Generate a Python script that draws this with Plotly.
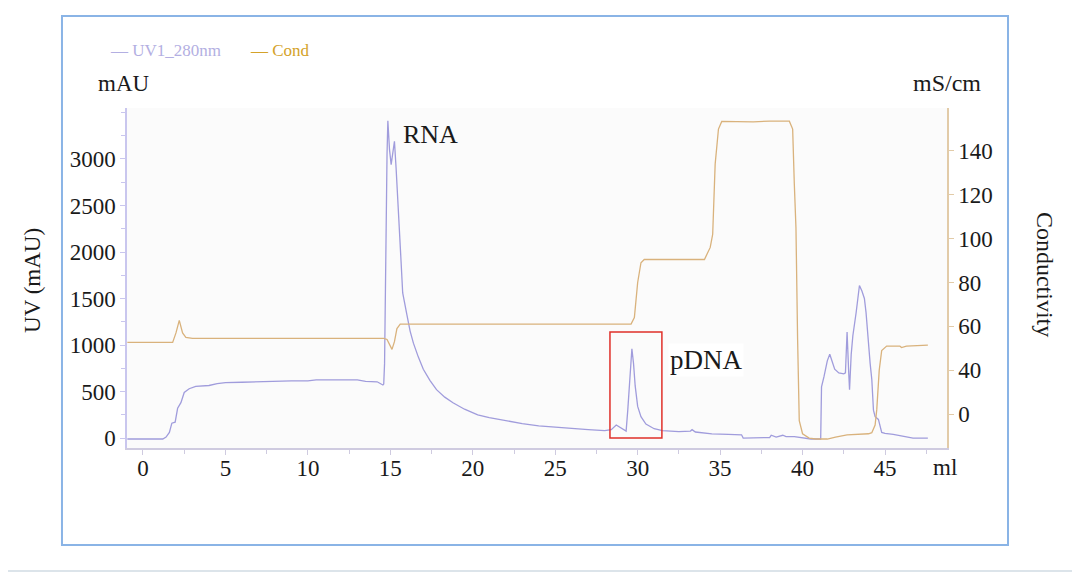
import plotly.graph_objects as go

# UV trace (ml, mAU)
uv_ml = [-0.95, 1.2, 1.4, 1.6, 1.75, 1.95, 2.1, 2.3, 2.5, 2.8, 3.2, 4.0, 4.5, 5.0, 6.0, 7.0, 7.5, 9.0,
         10.0, 10.5, 12.0, 13.0, 13.5, 14.2, 14.55, 14.6, 14.65, 14.72, 14.8, 14.85, 14.95, 15.05, 15.15,
         15.25, 15.35, 15.45, 15.55, 15.65, 15.75, 15.9, 16.0, 16.2, 16.4, 16.7, 17.0, 17.4, 17.8, 18.3,
         18.8, 19.5, 20.3, 21.0, 22.0, 23.0, 24.0, 25.0, 26.0, 27.0, 28.0, 28.4, 28.7, 29.0, 29.3, 29.4,
         29.5, 29.65, 29.75, 29.85, 30.0, 30.2, 30.5, 31.0, 31.5, 32.5, 33.2, 33.3, 33.5, 34.5, 35.5,
         36.3, 36.4, 37.5, 38.0, 38.1, 38.4, 38.8, 39.0, 39.5, 40.0, 40.5, 41.1, 41.15, 41.3, 41.5, 41.65,
         41.8, 41.95, 42.2, 42.5, 42.6, 42.7, 42.8, 42.85, 42.95, 43.05, 43.25, 43.45, 43.6, 43.75,
         43.85, 43.95, 44.1, 44.2, 44.3, 44.4, 44.6, 44.8, 45.0, 45.5, 46.0, 46.7, 47.6]
uv_mau = [-10, -10, 10, 60, 160, 170, 320, 380, 490, 530, 555, 565, 585, 595, 600, 605, 612, 615,
          615, 625, 625, 625, 610, 605, 570, 580, 800, 2200, 3050, 3410, 3100, 2940, 3100,
          3190, 2900, 2600, 2200, 1900, 1560, 1400, 1330, 1150, 1020, 870, 740, 620, 520, 440,
          380, 310, 250, 220, 185, 155, 130, 115, 105, 90, 80, 90, 140, 110, 75, 300,
          600, 960, 800, 560, 340, 230, 150, 100, 80, 70, 75, 90, 65, 45, 40,
          35, 0, 0, 5, 30, 10, 30, 15, 15, 5, -10, -10, 550, 660, 830, 900,
          820, 740, 700, 690, 700, 1140, 700, 520, 900, 1100, 1350, 1640, 1580, 1500,
          1350, 1100, 800, 630, 300, 230, 200, 60, 50, 40, 20, 0, 0]

# Conductivity trace (ml, position on the right axis)
cond_ml = [-0.95, 1.8, 2.0, 2.2, 2.4, 2.6, 3.0, 14.6, 14.8, 15.0, 15.1, 15.25, 15.4, 15.6, 16.0,
           29.6, 29.8, 30.0, 30.2, 30.4, 34.05, 34.4, 34.55, 34.7, 34.9, 35.1, 37.0, 38.0, 39.2,
           39.4, 39.5, 39.6, 39.7, 39.8, 40.0, 40.4, 40.8, 41.5, 42.0, 42.7, 44.0, 44.2, 44.4,
           44.5, 44.65, 44.8, 45.1, 45.9, 46.0, 46.3, 47.6]
cond_val = [52.7, 52.7, 57, 62.7, 57, 55, 54.5, 54.5, 54, 50.5, 49.5, 53, 59, 61, 61,
            61, 64, 80, 89, 90.5, 90.5, 96, 102, 134, 150, 153.5, 153.3, 153.6, 153.6,
            150, 125, 105, 54, 17, 11, 9, 8.6, 8.6, 9.5, 10.5, 11, 11.5, 15,
            22, 40, 49, 51, 51, 50.3, 51, 51.4]

x_ticks = [0, 5, 10, 15, 20, 25, 30, 35, 40, 45]
uv_ticks = [0, 500, 1000, 1500, 2000, 2500, 3000]
cond_tickvals = [20, 40, 60, 80, 100, 120, 140]
cond_ticktext = ['0', '40', '60', '80', '100', '120', '140']

FONT = 'Liberation Serif'
UV_COLOR = '#a09cdc'
COND_COLOR = '#d9b27c'

fig = go.Figure()

fig.add_trace(go.Scatter(x=uv_ml, y=uv_mau, mode='lines', name='UV1_280nm',
                         line=dict(color=UV_COLOR, width=1.3), yaxis='y'))
fig.add_trace(go.Scatter(x=cond_ml, y=cond_val, mode='lines', name='Cond',
                         line=dict(color=COND_COLOR, width=1.3), yaxis='y2'))

# the page puts the figure 8px in from the top-left corner, so the margins allow for it
fig.update_layout(
    width=1080, height=572, autosize=False,
    margin=dict(l=119, r=141, t=100, b=132),
    paper_bgcolor='white',
    plot_bgcolor='#fbfbfb',
    showlegend=False,
    font=dict(family=FONT, size=23, color='#1a1a1a'),
    xaxis=dict(
        range=[-0.97, 48.76], tickvals=x_ticks, showgrid=False, zeroline=False,
        showline=True, linecolor='#cfcbe0', linewidth=1.5,
        ticks='outside', ticklen=5, tickcolor='#cfcbe0',
        minor=dict(dtick=2.5, tick0=0, ticks='outside', ticklen=4, tickcolor='#cfcbe0'),
        tickfont=dict(family=FONT, size=23), ticklabelstandoff=-6,
    ),
    yaxis=dict(
        range=[-107, 3548], tickvals=uv_ticks, showgrid=False, zeroline=False,
        showline=True, linecolor='#c9c6ee', linewidth=1.5,
        ticks='outside', ticklen=5, tickcolor='#c9c6ee',
        minor=dict(dtick=250, tick0=0, ticks='outside', ticklen=4, tickcolor='#c9c6ee'),
        tickfont=dict(family=FONT, size=23),
    ),
    yaxis2=dict(
        range=[4.5, 159.6], overlaying='y', side='right',
        tickvals=cond_tickvals, ticktext=cond_ticktext,
        showgrid=False, zeroline=False,
        showline=True, linecolor='#e2cba8', linewidth=1.5,
        ticks='outside', ticklen=5, tickcolor='#e2cba8',
        tickfont=dict(family=FONT, size=23),
    ),
)

# outer light-blue frame and grey strip at the bottom
fig.add_shape(type='rect', xref='paper', yref='paper',
              x0=-0.0793, x1=1.0744, y0=-0.2853, y1=1.2706,
              line=dict(color='#8ab4e6', width=2), layer='below')
fig.add_shape(type='rect', xref='paper', yref='paper',
              x0=-0.16, x1=1.17, y0=-0.39, y1=-0.3588,
              line=dict(width=0), fillcolor='#dce4ea', layer='below')

# red box round the pDNA peak
fig.add_shape(type='rect', xref='x', yref='y', x0=28.32, x1=31.47, y0=0, y1=1140,
              line=dict(color='#e0302a', width=1.5))

annotations = [
    dict(text='RNA', x=15.65, y=3258, xref='x', yref='y', xanchor='left', yanchor='middle',
         font=dict(size=26)),
    dict(text='pDNA', x=31.85, y=839, xref='x', yref='y', xanchor='left', yanchor='middle',
         font=dict(size=27), bgcolor='white'),
    dict(text='mAU', x=-0.0037, y=1.0735, xanchor='center', yanchor='middle', font=dict(size=23)),
    dict(text='mS/cm', x=1.0, y=1.0735, xanchor='center', yanchor='middle', font=dict(size=24)),
    dict(text='ml', x=0.9976, y=-0.056, xanchor='center', yanchor='middle', font=dict(size=23)),
    dict(text='UV (mAU)', x=-0.116, y=0.494, xanchor='center', yanchor='middle', textangle=-90,
         font=dict(size=23)),
    dict(text='Conductivity', x=1.1195, y=0.509, xanchor='center', yanchor='middle', textangle=90,
         font=dict(size=24)),
    dict(text='— UV1_280nm', x=-0.023, y=1.17, xanchor='left', yanchor='middle',
         font=dict(size=17, color='#b3afe2')),
    dict(text='— Cond', x=0.1476, y=1.17, xanchor='left', yanchor='middle',
         font=dict(size=17, color='#d4a22a')),
]
for a in annotations:
    a.setdefault('xref', 'paper')
    a.setdefault('yref', 'paper')
    a['showarrow'] = False
    fig.add_annotation(**a)

fig.write_html("out.html")
